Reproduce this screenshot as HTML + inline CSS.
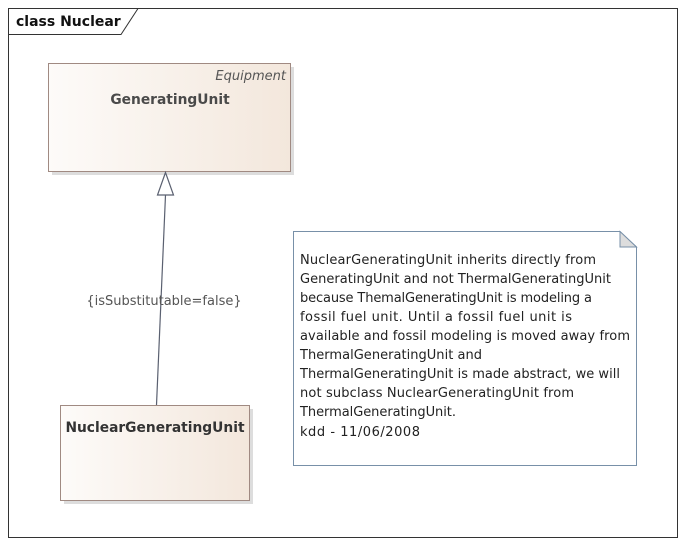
<!DOCTYPE html>
<html><head><style>
body{margin:0;background:#fff;width:686px;height:545px;overflow:hidden;font-family:"DejaVu Sans","Liberation Sans",sans-serif;}
svg text{font-family:"DejaVu Sans","Liberation Sans",sans-serif;}
</style></head><body>
<svg width="686" height="545" xmlns="http://www.w3.org/2000/svg">
<defs>
<linearGradient id="g" x1="0" y1="0" x2="1" y2="0">
<stop offset="0" stop-color="#fdfbf9"/><stop offset="1" stop-color="#f3e7dc"/>
</linearGradient>
</defs>
<rect x="8.5" y="8.5" width="669" height="529" fill="#fff" stroke="#333" stroke-width="1"/>
<path d="M8.5 8.5 H138 L121 34.5 H8.5 Z" fill="#fff" stroke="#333"/>
<text x="16" y="26" font-size="14" font-weight="bold" fill="#111">class Nuclear</text>

<rect x="52" y="67" width="242" height="108" fill="#ddd"/>
<rect x="48.5" y="63.5" width="242" height="108" fill="url(#g)" stroke="#a08a82"/>
<text x="286" y="80" font-size="13" font-style="italic" fill="#555" text-anchor="end">Equipment</text>
<text x="170" y="104" font-size="13.8" font-weight="bold" fill="#4a4a4a" text-anchor="middle">GeneratingUnit</text>

<rect x="64" y="409" width="189" height="95" fill="#ddd"/>
<rect x="60.5" y="405.5" width="189" height="95" fill="url(#g)" stroke="#a08a82"/>
<text x="155" y="432" font-size="13.8" font-weight="bold" fill="#333" text-anchor="middle">NuclearGeneratingUnit</text>

<line x1="156.5" y1="405" x2="165.5" y2="195" stroke="#5a6070" stroke-width="1.2"/>
<path d="M165.5 172.5 L157.5 195 H173.5 Z" fill="#fff" stroke="#5a6070" stroke-width="1.2"/>
<text x="164" y="305" font-size="13" fill="#555" text-anchor="middle">{isSubstitutable=false}</text>

<path d="M293.5 231.5 H620 L636.5 247 V465.5 H293.5 Z" fill="#fff" stroke="#7890a8"/>
<path d="M620 231.5 V247 H636.5 Z" fill="#ddd" stroke="#7890a8"/>
<g font-size="13" fill="#222" xml:space="preserve">
<text x="300" y="264" textLength="296">NuclearGeneratingUnit inherits directly from</text>
<text x="300" y="283" textLength="311">GeneratingUnit and not ThermalGeneratingUnit</text>
<text x="300" y="302" textLength="292">because ThemalGeneratingUnit is modeling a</text>
<text x="300" y="321" textLength="272">fossil fuel unit.   Until a  fossil fuel unit is</text>
<text x="300" y="340" textLength="330">available and fossil modeling is moved away from</text>
<text x="300" y="359" textLength="182">ThermalGeneratingUnit and</text>
<text x="300" y="378" textLength="320">ThermalGeneratingUnit is made abstract, we will</text>
<text x="300" y="397" textLength="274">not subclass NuclearGeneratingUnit from</text>
<text x="300" y="416" textLength="156">ThermalGeneratingUnit.</text>
<text x="300" y="436" textLength="120">kdd - 11/06/2008</text>
</g>
</svg>
</body></html>
